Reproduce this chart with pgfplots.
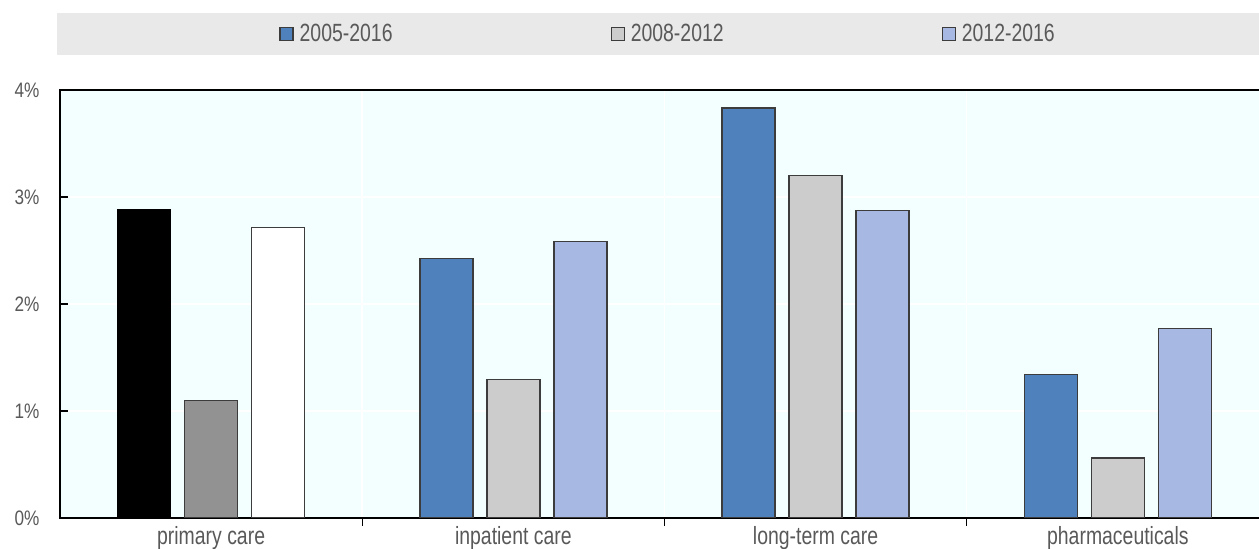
\documentclass[border=0pt]{standalone}
\usepackage{pgfplots}
\pgfplotsset{compat=1.18}
\usepackage{fontspec}
\setmainfont{Liberation Sans}[FakeStretch=0.78]
\newfontfamily\tickfont{Liberation Sans}[FakeStretch=0.82]
\definecolor{bgc}{RGB}{243,254,255}
\definecolor{legbg}{RGB}{233,233,233}
\definecolor{ser1}{RGB}{79,129,189}
\definecolor{ser2}{RGB}{204,204,204}
\definecolor{ser3}{RGB}{167,185,227}
\definecolor{hl2}{RGB}{146,146,146}
\definecolor{txt}{RGB}{89,89,89}
\definecolor{edge}{RGB}{60,60,60}
\begin{document}
\begin{tikzpicture}[x=1bp,y=1bp]
\useasboundingbox (0,0) rectangle (1259,549);
\fill[legbg] (57,494) rectangle (1275,536);
\begin{axis}[
  at={(60bp,31bp)}, anchor=south west,
  scale only axis, width=1209bp, height=428bp,
  xmin=-0.5, xmax=3.5, ymin=0, ymax=4,
  axis background/.style={fill=bgc},
  axis line style={black, line width=1.6bp},
  ytick={0,1,2,3,4},
  yticklabels={0\%,1\%,2\%,3\%,4\%},
  yticklabel style={font=\tickfont\fontsize{21}{25}\selectfont, text=txt, xshift=-17bp},
  xtick={0.5,1.5,2.5},
  xticklabels={},
  extra x ticks={0,1,2,3},
  extra x tick labels={primary care,inpatient care,long-term care,pharmaceuticals},
  extra x tick style={grid=none, major tick length=0pt},
  xticklabel style={font=\fontsize{25}{29}\selectfont, text=txt, yshift=-5bp},
  xtick pos=lower, ytick pos=left,
  tick align=inside,
  major tick length=8bp,
  tick style={black, line width=1.4bp},
  xmajorgrids, ymajorgrids,
  grid style={white, line width=1.5bp},
  ybar,
  bar width=53bp,
  legend style={at={(0.503,1.131)}, anchor=center, draw=none, fill=none,
    legend columns=3, font=\fontsize{25}{29}\selectfont, text=txt,
    /tikz/every odd column/.append style={column sep=4bp},
    /tikz/every even column/.append style={column sep=216bp}},
  legend image code/.code={\draw[#1, line width=1.2bp] (0bp,-6.5bp) rectangle (13bp,6.5bp);},
]
\addplot[fill=ser1, draw=edge, line width=1.3bp, bar shift=-67bp] coordinates {(1,2.426) (2,3.831) (3,1.340)};
\addplot[fill=ser2, draw=edge, line width=1.3bp, bar shift=0bp] coordinates {(1,1.293) (2,3.204) (3,0.562)};
\addplot[fill=ser3, draw=edge, line width=1.3bp, bar shift=67bp] coordinates {(1,2.585) (2,2.876) (3,1.770)};
\addplot[fill=black, draw=black, line width=1.3bp, bar shift=-67bp, forget plot] coordinates {(0,2.885)};
\addplot[fill=hl2, draw=edge, line width=1.3bp, bar shift=0bp, forget plot] coordinates {(0,1.096)};
\addplot[fill=white, draw=edge, line width=1.3bp, bar shift=67bp, forget plot] coordinates {(0,2.717)};
\legend{2005-2016,2008-2012,2012-2016}
\end{axis}
\end{tikzpicture}
\end{document}
